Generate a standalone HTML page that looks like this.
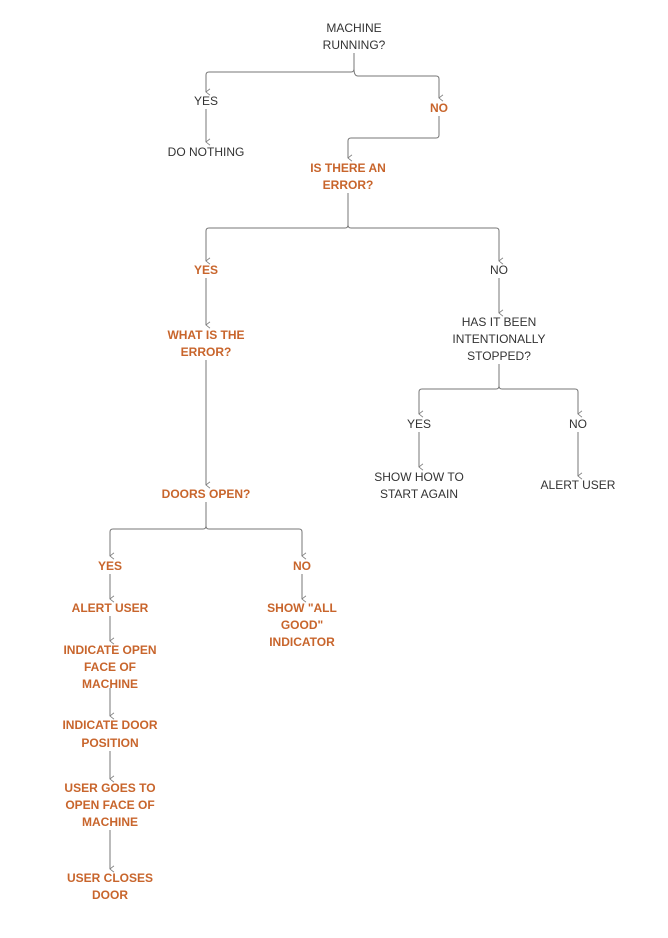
<!DOCTYPE html>
<html><head><meta charset="utf-8"><style>
html,body{margin:0;padding:0;background:#fff;}
svg{display:block;}
text{font-family:"Liberation Sans",sans-serif;font-size:12px;text-anchor:middle;dominant-baseline:central;}
.d{fill:#333;}
.o{fill:#c8652c;font-weight:bold;}
path{fill:none;stroke:#777;stroke-width:1;}
</style></head><body>
<svg width="668" height="938" viewBox="0 0 668 938">
<defs><marker id="a" viewBox="0 0 10 10" refX="5" refY="9" markerWidth="8" markerHeight="8" orient="auto-start-reverse" markerUnits="userSpaceOnUse"><path d="M1,4 L5,9 L9,4" style="stroke:#777;fill:none"/></marker></defs>

<text class="d" x="354" y="28">MACHINE</text>
<text class="d" x="354" y="45">RUNNING?</text>
<path d="M354,53 V69 Q354,72 351,72 H209 Q206,72 206,75 V92" marker-end="url(#a)"/>
<path d="M354,69 Q354,76 358,76 H436 Q439,76 439,79 V98" marker-end="url(#a)"/>
<text class="d" x="206" y="101">YES</text>
<path d="M206,109 V142" marker-end="url(#a)"/>
<text class="d" x="206" y="152">DO NOTHING</text>
<text class="o" x="439" y="108">NO</text>
<path d="M439,116 V135 Q439,138 436,138 H351 Q348,138 348,141 V158" marker-end="url(#a)"/>
<text class="o" x="348" y="168">IS THERE AN</text>
<text class="o" x="348" y="185">ERROR?</text>
<path d="M348,193 V225 Q348,228 345,228 H209 Q206,228 206,231 V261" marker-end="url(#a)"/>
<path d="M348,225 Q348,228 351,228 H496 Q499,228 499,231 V261" marker-end="url(#a)"/>
<text class="o" x="206" y="270">YES</text>
<text class="d" x="499" y="270">NO</text>
<path d="M206,278 V325" marker-end="url(#a)"/>
<text class="o" x="206" y="335">WHAT IS THE</text>
<text class="o" x="206" y="352">ERROR?</text>
<path d="M499,278 V313" marker-end="url(#a)"/>
<text class="d" x="499" y="322">HAS IT BEEN</text>
<text class="d" x="499" y="339">INTENTIONALLY</text>
<text class="d" x="499" y="356">STOPPED?</text>
<path d="M499,364 V386 Q499,389 496,389 H422 Q419,389 419,392 V414" marker-end="url(#a)"/>
<path d="M499,386 Q499,389 502,389 H575 Q578,389 578,392 V414" marker-end="url(#a)"/>
<text class="d" x="419" y="424">YES</text>
<text class="d" x="578" y="424">NO</text>
<path d="M419,432 V467" marker-end="url(#a)"/>
<text class="d" x="419" y="477">SHOW HOW TO</text>
<text class="d" x="419" y="494">START AGAIN</text>
<path d="M578,432 V476" marker-end="url(#a)"/>
<text class="d" x="578" y="485">ALERT USER</text>
<path d="M206,360 V485" marker-end="url(#a)"/>
<text class="o" x="206" y="494">DOORS OPEN?</text>
<path d="M206,502 V526 Q206,529 203,529 H113 Q110,529 110,532 V556" marker-end="url(#a)"/>
<path d="M206,526 Q206,529 209,529 H299 Q302,529 302,532 V556" marker-end="url(#a)"/>
<text class="o" x="110" y="566">YES</text>
<text class="o" x="302" y="566">NO</text>
<path d="M110,574 V599" marker-end="url(#a)"/>
<text class="o" x="110" y="608">ALERT USER</text>
<path d="M110,616 V641" marker-end="url(#a)"/>
<text class="o" x="110" y="650">INDICATE OPEN</text>
<text class="o" x="110" y="667">FACE OF</text>
<text class="o" x="110" y="684">MACHINE</text>
<path d="M110,688 V716" marker-end="url(#a)"/>
<text class="o" x="110" y="725">INDICATE DOOR</text>
<text class="o" x="110" y="743">POSITION</text>
<path d="M110,751 V779" marker-end="url(#a)"/>
<text class="o" x="110" y="788">USER GOES TO</text>
<text class="o" x="110" y="805">OPEN FACE OF</text>
<text class="o" x="110" y="822">MACHINE</text>
<path d="M110,830 V869" marker-end="url(#a)"/>
<text class="o" x="110" y="878">USER CLOSES</text>
<text class="o" x="110" y="895">DOOR</text>
<path d="M302,574 V599" marker-end="url(#a)"/>
<text class="o" x="302" y="608">SHOW "ALL</text>
<text class="o" x="302" y="625">GOOD"</text>
<text class="o" x="302" y="642">INDICATOR</text>
</svg>
</body></html>
